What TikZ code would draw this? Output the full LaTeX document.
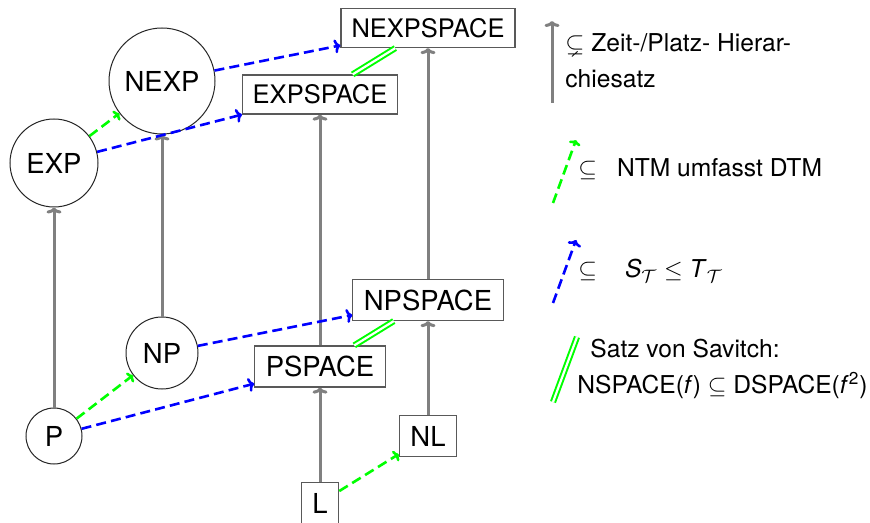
\documentclass[tikz,border=0pt]{standalone}
\usepackage{amssymb}
\usepackage{fontspec}
\setmainfont{TeX Gyre Heros}
\usetikzlibrary{arrows.meta}
\begin{document}
\begin{tikzpicture}[x=0.5pt,y=-0.5pt,
  every node/.style={font=\fontsize{13.75}{16}\selectfont},
  cls/.style={circle,draw=black!85,line width=0.5pt,fill=white,inner sep=0pt},
  spc/.style={rectangle,draw=black!65,line width=0.6pt,fill=white,inner xsep=5.5pt,inner ysep=0pt,minimum height=20.5pt},
  topspc/.style={spc,font=\fontsize{12.75}{15}\selectfont,inner xsep=5.3pt,minimum height=19.5pt},
  hier/.style={draw=gray,line width=1.5pt,-{To[length=3pt,width=7.5pt]}},
  ntm/.style={draw=green,line width=1.3pt,dash pattern=on 5pt off 2.6pt,-{To[length=2.5pt,width=6pt]}},
  stt/.style={draw=blue,line width=1.3pt,dash pattern=on 5pt off 2.6pt,-{To[length=3pt,width=7pt]}},
  sav/.style={draw=green,double=white,line width=1pt,double distance=1.1pt},
  leg/.style={font=\fontsize{12.3}{15}\selectfont,inner sep=0pt,anchor=base west}
]
\useasboundingbox (0,0) rectangle (870,523);
% nodes
\node[cls,minimum size=28pt] (P) at (54,436) {P};
\node[cls,minimum size=36pt] (NP) at (162,353) {NP};
\node[cls,minimum size=44pt] (EXP) at (54,163) {EXP};
\node[cls,minimum size=53pt] (NEXP) at (162,81) {NEXP};
\node[spc] (L) at (320,503) {L};
\node[spc] (NL) at (428,436) {NL};
\node[spc] (PSPACE) at (320,366.5) {PSPACE};
\node[spc] (NPSPACE) at (428,300) {NPSPACE};
\node[topspc] (EXPSPACE) at (320,94.5) {EXPSPACE};
\node[topspc] (NEXPSPACE) at (428,28) {NEXPSPACE};
% hierarchy
\draw[hier] (P) -- (EXP);
\draw[hier] (NP) -- (NEXP);
\draw[hier] (L) -- (PSPACE);
\draw[hier] (PSPACE) -- (EXPSPACE);
\draw[hier] (NL) -- (NPSPACE);
\draw[hier] (NPSPACE) -- (NEXPSPACE);
% NTM
\draw[ntm] (P) -- (NP);
\draw[ntm] (EXP) -- (NEXP);
\draw[ntm] (L) -- (NL);
% S <= T
\draw[stt] (P) -- (PSPACE);
\draw[stt] (NP) -- (NPSPACE);
\draw[stt] (EXP) -- (EXPSPACE);
\draw[stt] (NEXP) -- (NEXPSPACE);
% Savitch
\draw[sav] (PSPACE) -- (NPSPACE);
\draw[sav] (EXPSPACE) -- (NEXPSPACE);
% legend
\coordinate (h1) at (552,103); \coordinate (h2) at (552,21);
\draw[hier] (h1) -- (h2);
\node[leg] (t1a) at (565,52) {$\subsetneq$ Zeit-/Platz- Hierar-};
\node[leg] (t1b) at (565,88) {chiesatz};
\coordinate (g1) at (553,203); \coordinate (g2) at (576,140);
\draw[ntm] (g1) -- (g2);
\node[leg] (t2) at (578,177) {$\subseteq$\hspace{10pt}NTM umfasst DTM};
\coordinate (b1) at (553,303); \coordinate (b2) at (576,240);
\draw[stt] (b1) -- (b2);
\node[leg] (t3) at (578,278) {$\subseteq$\hspace{14pt}\textit{S}$_{\mathcal{T}}$ $\leq$ \textit{T}$_{\mathcal{T}}$};
\coordinate (s1) at (553,402); \coordinate (s2) at (577,337);
\draw[sav] (s1) -- (s2);
\node[leg] (t4a) at (590,357) {Satz von Savitch:};
\node[leg] (t4b) at (577,393) {NSPACE(\textit{f}) $\subseteq$ DSPACE(\textit{f}\textsuperscript{2})};
\end{tikzpicture}
\end{document}
